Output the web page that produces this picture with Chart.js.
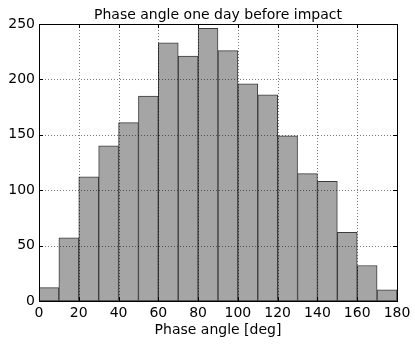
<!DOCTYPE html>
<html>
<head>
<meta charset="utf-8">
<script src="https://cdn.jsdelivr.net/npm/chart.js@4"></script>
<style>
  html, body { margin: 0; padding: 0; background: #fff; }
  #wrap { width: 415px; height: 346px; }
</style>
</head>
<body>
<div id="wrap"><canvas id="chart"></canvas></div>
<script>
const binStarts = [0, 10, 20, 30, 40, 50, 60, 70, 80, 90, 100, 110, 120, 130, 140, 150, 160, 170];
const counts = [12, 57, 112, 140, 161, 185, 233, 221, 246, 226, 196, 186, 149, 115, 108, 62, 32, 10];
const binWidth = 10;
const titleText = "Phase angle one day before impact";
const xLabel = "Phase angle [deg]";

const font = "DejaVu Sans";

// grid on top of bars, black frame and inward ticks like matplotlib
const framePlugin = {
  id: "frame",
  afterDatasetsDraw(chart) {
    const ctx = chart.ctx;
    const { left, right, top, bottom } = chart.chartArea;
    const xs = chart.scales.x;
    const ys = chart.scales.y;
    ctx.save();
    ctx.strokeStyle = "rgba(0,0,0,0.65)";
    ctx.lineWidth = 0.8;
    ctx.setLineDash([1, 2]);
    xs.ticks.forEach((t) => {
      const px = Math.round(xs.getPixelForValue(t.value)) + 0.5;
      ctx.beginPath();
      ctx.moveTo(px, top);
      ctx.lineTo(px, bottom);
      ctx.stroke();
    });
    ys.ticks.forEach((t) => {
      const py = Math.round(ys.getPixelForValue(t.value)) + 0.5;
      ctx.beginPath();
      ctx.moveTo(left, py);
      ctx.lineTo(right, py);
      ctx.stroke();
    });
    ctx.setLineDash([]);
    ctx.strokeStyle = "#000";
    ctx.lineWidth = 1;
    ctx.strokeRect(Math.round(left) + 0.5, Math.round(top) + 0.5,
      Math.round(right - left), Math.round(bottom - top));
    const tl = 4;
    xs.ticks.forEach((t) => {
      const px = Math.round(xs.getPixelForValue(t.value)) + 0.5;
      ctx.beginPath();
      ctx.moveTo(px, bottom);
      ctx.lineTo(px, bottom - tl);
      ctx.moveTo(px, top);
      ctx.lineTo(px, top + tl);
      ctx.stroke();
    });
    ys.ticks.forEach((t) => {
      const py = Math.round(ys.getPixelForValue(t.value)) + 0.5;
      ctx.beginPath();
      ctx.moveTo(left, py);
      ctx.lineTo(left + tl, py);
      ctx.moveTo(right, py);
      ctx.lineTo(right - tl, py);
      ctx.stroke();
    });
    // title centred over the plot area
    ctx.fillStyle = "#000";
    ctx.font = "14px '" + font + "'";
    ctx.textAlign = "center";
    ctx.textBaseline = "alphabetic";
    ctx.fillText(titleText, (left + right) / 2, top - 5);
    ctx.restore();
  },
};

new Chart("chart", {
  type: "bar",
  data: {
    datasets: [
      {
        data: binStarts.map((b, i) => ({ x: b + binWidth / 2, y: counts[i] })),
        backgroundColor: "#a5a5a5",
        borderColor: "#3c3c3c",
        borderWidth: 1,
        borderSkipped: false,
        barPercentage: 1,
        categoryPercentage: 1,
      },
    ],
  },
  options: {
    responsive: true,
    maintainAspectRatio: false,
    animation: false,
    layout: { padding: { left: 0, right: 18, top: 24, bottom: 0 } },
    plugins: {
      legend: { display: false },
      tooltip: { enabled: false },
      title: { display: false },
    },
    scales: {
      x: {
        type: "linear",
        min: 0,
        max: 180,
        offset: false,
        grid: { display: false, drawTicks: false },
        border: { display: false },
        ticks: {
          stepSize: 20,
          color: "#000",
          padding: 4,
          maxRotation: 0,
          font: { family: font, size: 14 },
        },
        title: {
          display: true,
          text: xLabel,
          color: "#000",
          font: { family: font, size: 14 },
          padding: { top: 0, bottom: 7 },
        },
        afterFit(scale) {
          scale.height = 45;
        },
      },
      y: {
        min: 0,
        max: 250,
        grid: { display: false, drawTicks: false },
        border: { display: false },
        ticks: {
          stepSize: 50,
          color: "#000",
          padding: 4,
          font: { family: font, size: 14 },
        },
        afterFit(scale) {
          scale.width = 39;
        },
      },
    },
  },
  plugins: [framePlugin],
});
</script>
</body>
</html>
